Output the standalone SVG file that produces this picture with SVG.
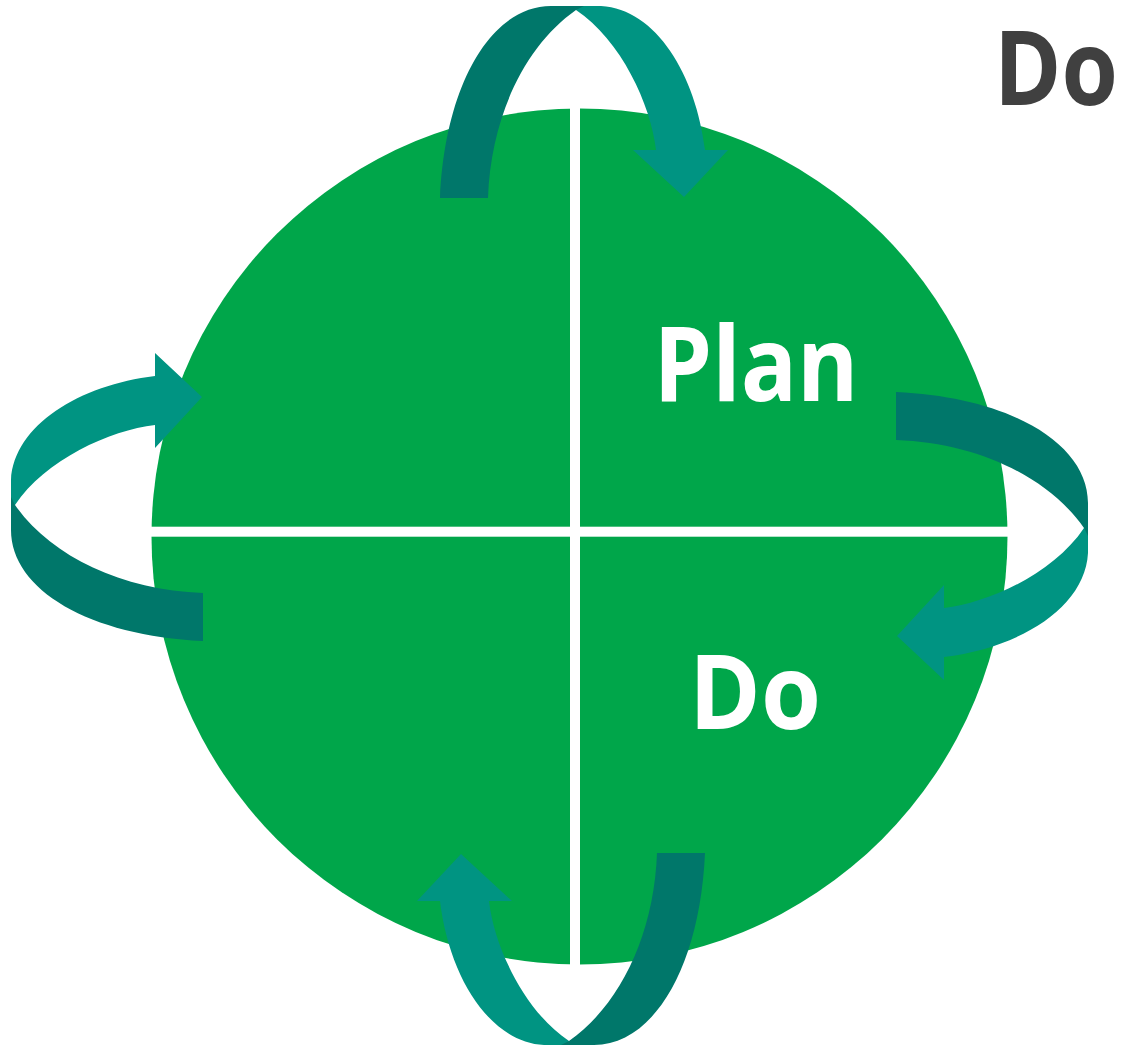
<svg xmlns="http://www.w3.org/2000/svg" width="1124" height="1045" viewBox="0 0 1124 1045">
<style>
.disc{fill:#00A64A}
.divider{fill:#FFFFFF}
.tail{fill:#00776A}
.head{fill:#009482}
.lbl{font-family:"Open Sans","Noto Sans","Liberation Sans",sans-serif;font-weight:700;font-size:104px;text-anchor:middle}
.white{fill:#FFFFFF}
.grey{fill:#404040}
</style>
<defs>
<g id="cycle-arrow">
<path class="head" d="M11,505 L11,480 C14,425 80,385 155,376 L155,353 L202,397 L155,448 L155,425 C110,430 45,460 15,505 Z"/>
<path class="tail" d="M11,497 L11,530 C11,590 90,636 203,641 L203,593 C120,590 50,555 15,505 Z"/>
</g>
</defs>
<rect width="1124" height="1045" fill="#FFFFFF"/>
<g id="circle">
<circle class="disc" cx="579.5" cy="536.5" r="428"/>
<rect class="divider" x="570" y="100" width="10" height="880"/>
<rect class="divider" x="140" y="526.7" width="880" height="10"/>
</g>
<g id="connectors">
<use href="#cycle-arrow"/>
<use href="#cycle-arrow" transform="matrix(0,1,-1,0,1081,-5)"/>
<use href="#cycle-arrow" transform="matrix(-1,0,0,-1,1099,1033)"/>
<use href="#cycle-arrow" transform="matrix(0,-1,1,0,64,1056)"/>
</g>
<g id="label-plan">
<text class="lbl white" x="756" y="401" textLength="205" lengthAdjust="spacingAndGlyphs">Plan</text>
</g>
<g id="label-do">
<text class="lbl white" x="755" y="729" textLength="132" lengthAdjust="spacingAndGlyphs">Do</text>
</g>
<g id="title-do">
<text class="lbl grey" x="1056" y="105" textLength="124" lengthAdjust="spacingAndGlyphs">Do</text>
</g>
</svg>
